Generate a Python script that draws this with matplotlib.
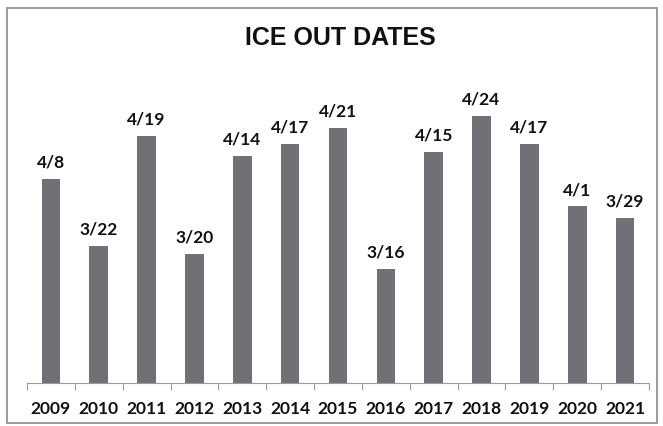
import matplotlib
matplotlib.use("Agg")
import matplotlib.pyplot as plt
from matplotlib.patches import Rectangle
from datetime import date

# ice out dates per year (month/day)
years = ['2009', '2010', '2011', '2012', '2013', '2014', '2015',
         '2016', '2017', '2018', '2019', '2020', '2021']
ice_out = ['4/8', '3/22', '4/19', '3/20', '4/14', '4/17', '4/21',
           '3/16', '4/15', '4/24', '4/17', '4/1', '3/29']

# day of year (non-leap) so bar height follows the date
def day_of_year(md):
    m, d = md.split('/')
    return date(2001, int(m), int(d)).timetuple().tm_yday

days = [day_of_year(s) for s in ice_out]

label_font = ['Lato', 'DejaVu Sans']

fig = plt.figure(figsize=(6.63, 4.26), dpi=100)
ax = fig.add_axes([27 / 663, 43 / 426, 622 / 663, 313 / 426])

x = list(range(len(years)))
ax.bar(x, days, width=0.39, color='#707076')

ax.set_ylim(46, 125.8)
ax.set_xlim(-0.5, len(years) - 0.5)

for xi, d, lab in zip(x, days, ice_out):
    ax.annotate(lab, (xi, d), xytext=(0, 6), textcoords='offset points',
                ha='center', va='bottom', fontsize=12.5, fontweight='bold',
                family=label_font, color='#111111')

# category labels, tick marks between categories
ax.set_xticks(x)
ax.set_xticklabels(years, fontsize=12.5, fontweight='bold',
                   family=label_font, color='#111111')
ax.tick_params(axis='x', which='major', length=0, pad=13)
ax.set_xticks([i - 0.5 for i in range(len(years) + 1)], minor=True)
ax.tick_params(axis='x', which='minor', length=5, color='#9a9a9a', width=0.8)
ax.set_yticks([])

for side in ['top', 'right', 'left']:
    ax.spines[side].set_visible(False)
ax.spines['bottom'].set_color('#9a9a9a')
ax.spines['bottom'].set_linewidth(0.8)

fig.text(340 / 663, 1 - 38 / 426, 'ICE OUT DATES', ha='center', va='center',
         fontsize=18, fontweight='bold', family='Liberation Sans',
         color='#111111')

# chart frame
fig.patches.append(Rectangle((7 / 663, 3 / 426), 650 / 663, 415 / 426,
                             transform=fig.transFigure, fill=False,
                             edgecolor='#8a8a8a', linewidth=1.2))

plt.savefig('out.png', dpi=100)
